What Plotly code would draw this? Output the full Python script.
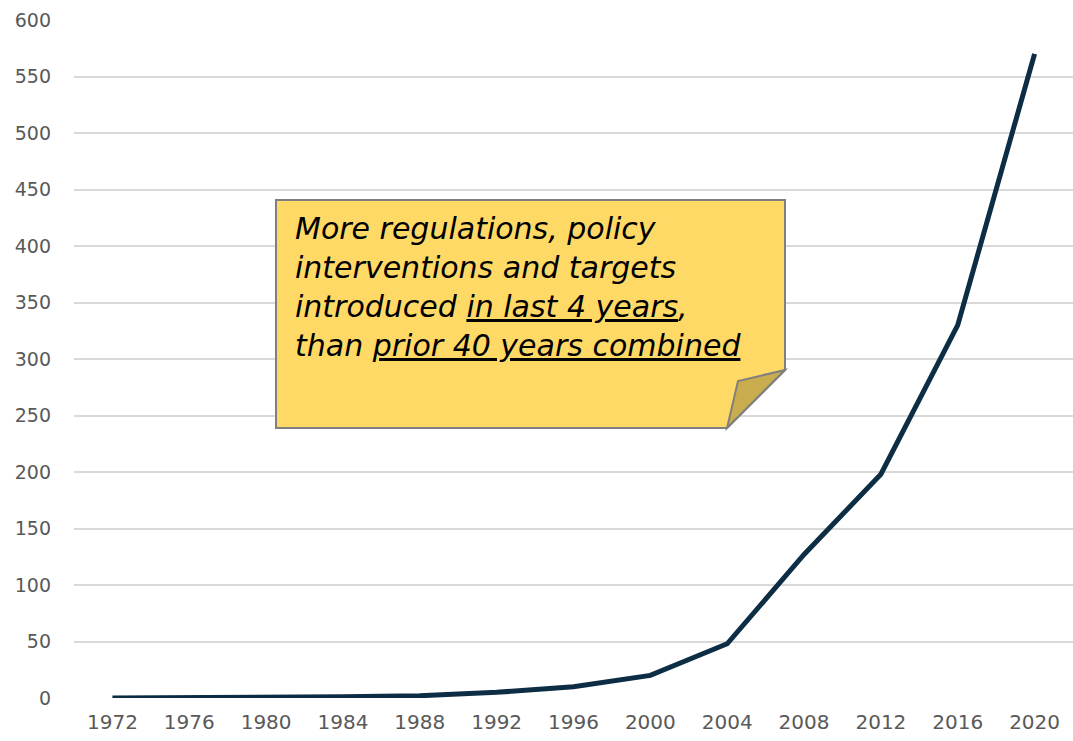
import plotly.graph_objects as go

# Cumulative count of policy measures by year
years = ["1972", "1976", "1980", "1984", "1988", "1992", "1996",
         "2000", "2004", "2008", "2012", "2016", "2020"]
counts = [0, 0, 1, 1, 2, 5, 10, 20, 48, 127, 198, 330, 570]
y_ticks = list(range(0, 601, 50))

W, H = 1073, 741
M_L, M_R, M_T, M_B = 74, 0, 20, 43
PW, PH = W - M_L - M_R, H - M_T - M_B


def px(x):
    return (x - M_L) / PW


def py(y):
    return 1 - (y - M_T) / PH


fig = go.Figure()
fig.add_trace(go.Scatter(
    x=years, y=counts, mode="lines",
    line=dict(color="#0c2d44", width=5),
    hoverinfo="x+y", showlegend=False,
))

# Sticky note with folded corner
bx0, by0, bx1, by1 = 276, 200, 785, 428
cut = 58
note_path = (f"M {px(bx0)} {py(by0)} L {px(bx1)} {py(by0)} "
             f"L {px(bx1)} {py(by1 - cut)} L {px(bx1 - cut)} {py(by1)} "
             f"L {px(bx0)} {py(by1)} Z")
fold_path = (f"M {px(bx1)} {py(by1 - cut)} L {px(bx1 - 47)} {py(by1 - 47)} "
             f"L {px(bx1 - cut)} {py(by1)} Z")
fig.add_shape(type="path", path=note_path, xref="paper", yref="paper",
              fillcolor="#ffd966", line=dict(color="#7f7f7f", width=2), layer="above")
fig.add_shape(type="path", path=fold_path, xref="paper", yref="paper",
              fillcolor="#c9ac4e", line=dict(color="#7f7f7f", width=2), layer="above")

u = '<span style="text-decoration:underline">{}</span>'
note_text = ("<i>More regulations, policy<br>"
             "interventions and targets<br>"
             "introduced " + u.format("in last 4 years") + ",<br>"
             "than " + u.format("prior 40 years combined") + "</i>")
fig.add_annotation(
    x=px(293), y=py(209), xref="paper", yref="paper",
    xanchor="left", yanchor="top", align="left",
    text=note_text, showarrow=False,
    font=dict(family="DejaVu Sans, sans-serif", size=30, color="#000000"),
)

fig.update_layout(
    width=W, height=H,
    margin=dict(l=M_L, r=M_R, t=M_T, b=M_B),
    paper_bgcolor="white", plot_bgcolor="white",
    font=dict(family="DejaVu Sans, sans-serif", color="#595959"),
    xaxis=dict(type="category", range=[-0.5, len(years) - 0.5],
               showgrid=False, zeroline=False, showline=False,
               ticks="", ticklabelstandoff=10,
               tickfont=dict(size=20, color="#595959")),
    yaxis=dict(range=[0, 600], tickvals=y_ticks, showgrid=True,
               gridcolor="#d9d9d9", gridwidth=1.5, zeroline=False, showline=False,
               ticks="", ticklabelstandoff=22,
               tickfont=dict(size=19, color="#595959")),
)

fig.write_html("out.html")
